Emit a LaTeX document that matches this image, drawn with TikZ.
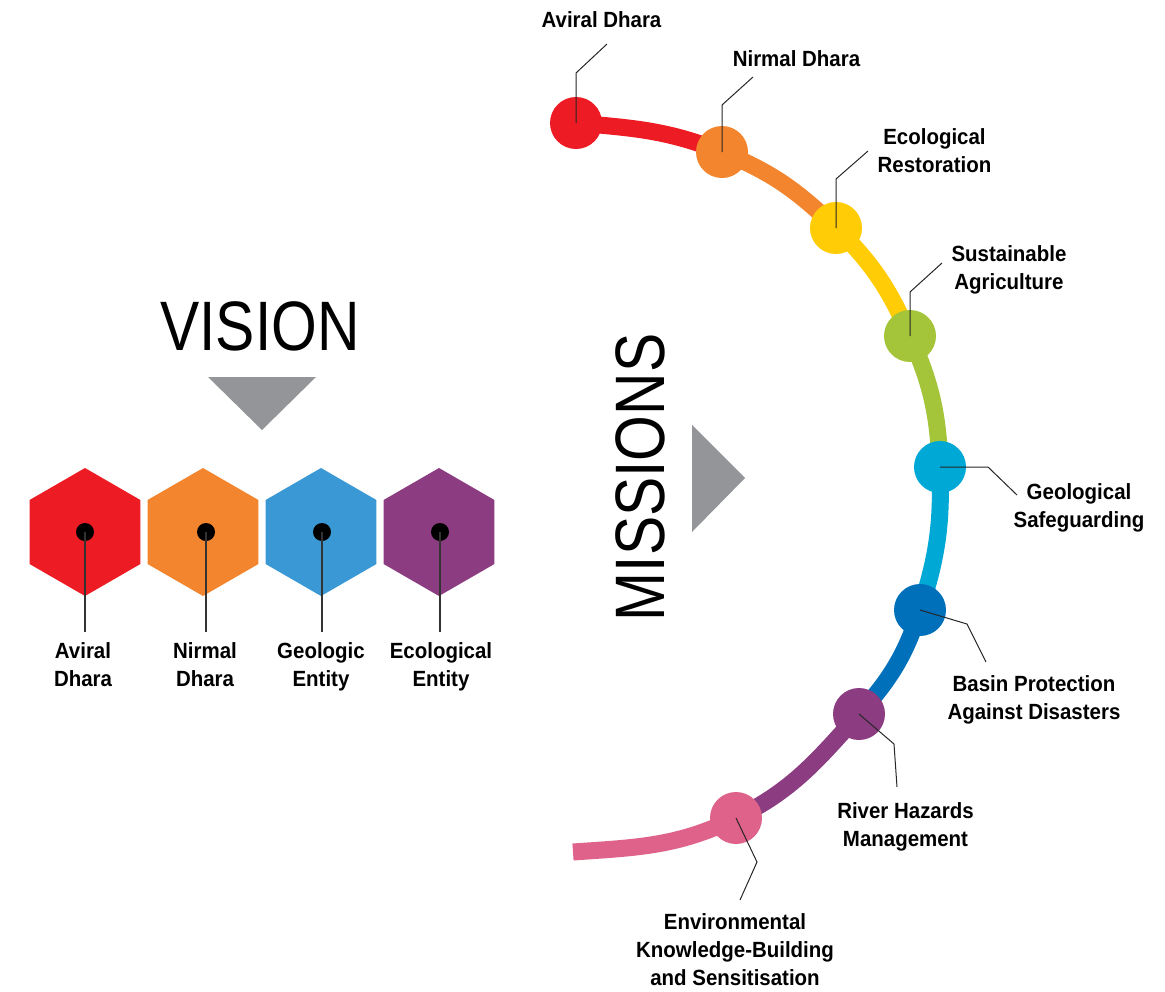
\documentclass[tikz,border=0pt]{standalone}
\usepackage{fontspec}
\setmainfont{Liberation Sans}
\newfontfamily\lblfont{Liberation Sans}[FakeStretch=0.93]
\newfontfamily\bigfont{Liberation Sans}[FakeStretch=0.84]
\usetikzlibrary{shapes.geometric}
\definecolor{cRed}{HTML}{ED1C24}
\definecolor{cOrange}{HTML}{F3852E}
\definecolor{cYellow}{HTML}{FFCC05}
\definecolor{cGreen}{HTML}{A4C53A}
\definecolor{cCyan}{HTML}{00A8D6}
\definecolor{cDBlue}{HTML}{0070BA}
\definecolor{cPurple}{HTML}{8C3C81}
\definecolor{cPink}{HTML}{DE628A}
\definecolor{cHBlue}{HTML}{3A98D4}
\definecolor{cGray}{HTML}{939598}
\begin{document}
\begin{tikzpicture}[x=1pt,y=1pt,
  hexa/.style={regular polygon, regular polygon sides=6, shape border rotate=30,
    minimum size=128pt, inner sep=0pt, outer sep=0pt, draw=none},
  blackdot/.style={circle, fill=black, minimum size=18pt, inner sep=0pt},
  stone/.style={circle, minimum size=52pt, inner sep=0pt},
  lbl/.style={font=\lblfont\bfseries\fontsize{22}{28}\selectfont, align=center,
    inner sep=0pt, text=black, anchor=north},
  big/.style={font=\bigfont\fontsize{70}{70}\selectfont, inner sep=0pt, text=black},
  leader/.style={line width=1pt, draw=black!85},
  hexline/.style={line width=1.5pt, draw=black!80},
  band/.style={line width=17pt, line cap=butt},
]
\useasboundingbox (0,0) rectangle (1165,-991);

% ---------- VISION ----------
\node[big] (vision) at (260,-326) {VISION};
\fill[cGray] (208,-377) -- (316,-377) -- (262,-430) -- cycle;

\node[hexa, fill=cRed]    (h1) at (85,-532) {};
\node[hexa, fill=cOrange] (h2) at (203,-532) {};
\node[hexa, fill=cHBlue]  (h3) at (321,-532) {};
\node[hexa, fill=cPurple] (h4) at (439,-532) {};

\node[blackdot] (d1) at (85,-532) {};
\node[blackdot] (d2) at (206,-532) {};
\node[blackdot] (d3) at (322,-532) {};
\node[blackdot] (d4) at (440,-532) {};

\coordinate (e1) at (85,-632);
\coordinate (e2) at (206,-632);
\coordinate (e3) at (322,-632);
\coordinate (e4) at (440,-632);
\draw[hexline] (d1.center) -- (e1);
\draw[hexline] (d2.center) -- (e2);
\draw[hexline] (d3.center) -- (e3);
\draw[hexline] (d4.center) -- (e4);

\node[lbl] (v1) at (83,-642) {Aviral\\Dhara};
\node[lbl] (v2) at (205,-642) {Nirmal\\Dhara};
\node[lbl] (v3) at (321,-642) {Geologic\\Entity};
\node[lbl] (v4) at (441,-642) {Ecological\\Entity};

% ---------- MISSIONS ----------
\node[big, rotate=90] (missions) at (640,-477.5) {MISSIONS};
\fill[cGray] (692,-425) -- (692,-532) -- (745,-478) -- cycle;

\coordinate (p1) at (576,-123);
\coordinate (p2) at (722,-152);
\coordinate (p3) at (836,-228);
\coordinate (p4) at (910,-336);
\coordinate (p5) at (940,-467);
\coordinate (p6) at (920,-610);
\coordinate (p7) at (859,-714);
\coordinate (p8) at (736,-818);
\coordinate (p9) at (573,-852);

\draw[band, cRed]    (p1) to[out=-5,in=158]   (p2);
\draw[band, cOrange] (p2) to[out=-22,in=136]  (p3);
\draw[band, cYellow] (p3) to[out=-44,in=114]  (p4);
\draw[band, cGreen]  (p4) to[out=-66,in=92]   (p5);
\draw[band, cCyan]   (p5) to[out=-88,in=72]   (p6);
\draw[band, cDBlue]  (p6) to[out=-108,in=48]  (p7);
\draw[band, cPurple] (p7) to[out=-132,in=26]  (p8);
\draw[band, cPink]   (p8) to[out=-154,in=4]   (p9);

\node[stone, fill=cRed]    (c1) at (p1) {};
\node[stone, fill=cOrange] (c2) at (p2) {};
\node[stone, fill=cYellow] (c3) at (p3) {};
\node[stone, fill=cGreen]  (c4) at (p4) {};
\node[stone, fill=cCyan]   (c5) at (p5) {};
\node[stone, fill=cDBlue]  (c6) at (p6) {};
\node[stone, fill=cPurple] (c7) at (p7) {};
\node[stone, fill=cPink]   (c8) at (p8) {};

\coordinate (k1) at (576,-73);  \coordinate (t1) at (607,-44);
\coordinate (k2) at (722,-105); \coordinate (t2) at (753,-77);
\coordinate (k3) at (836,-179); \coordinate (t3) at (868,-151);
\coordinate (k4) at (910,-292); \coordinate (t4) at (942,-263);
\coordinate (k5) at (988,-467); \coordinate (t5) at (1017,-495);
\coordinate (k6) at (967,-624); \coordinate (t6) at (986,-662);
\coordinate (k7) at (894,-744); \coordinate (t7) at (897,-787);
\coordinate (k8) at (757,-862); \coordinate (t8) at (740,-900);

\draw[leader] (c1.center) -- (k1) -- (t1);
\draw[leader] (c2.center) -- (k2) -- (t2);
\draw[leader] (c3.center) -- (k3) -- (t3);
\draw[leader] (c4.center) -- (k4) -- (t4);
\draw[leader] (c5.center) -- (k5) -- (t5);
\draw[leader] (c6.center) -- (k6) -- (t6);
\draw[leader] (c7.center) -- (k7) -- (t7);
\draw[leader] (c8.center) -- (k8) -- (t8);

\node[lbl] (m1) at (601.5,-11) {Aviral Dhara};
\node[lbl] (m2) at (796.5,-50) {Nirmal Dhara};
\node[lbl] (m3) at (934.5,-128) {Ecological\\Restoration};
\node[lbl] (m4) at (1009,-245) {Sustainable\\Agriculture};
\node[lbl] (m5) at (1079,-483) {Geological\\Safeguarding};
\node[lbl] (m6) at (1034,-675) {Basin Protection\\Against Disasters};
\node[lbl] (m7) at (905.5,-802) {River Hazards\\Management};
\node[lbl] (m8) at (735,-913) {Environmental\\Knowledge-Building\\and Sensitisation};
\end{tikzpicture}
\end{document}
